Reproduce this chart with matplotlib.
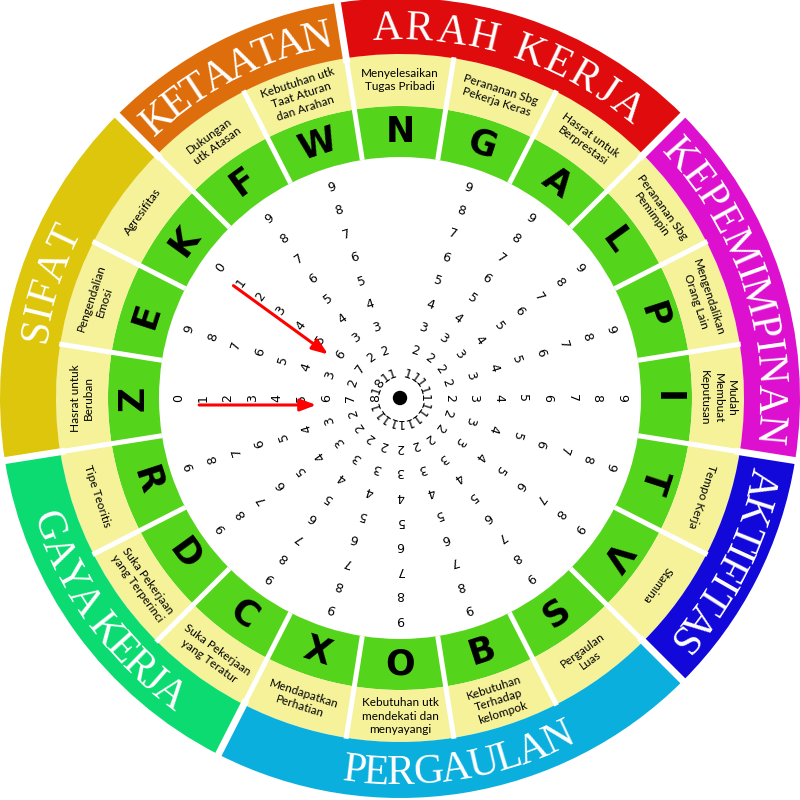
import matplotlib
matplotlib.use("Agg")
import matplotlib.pyplot as plt
import numpy as np
from matplotlib.patches import Wedge, Circle
from matplotlib.font_manager import FontProperties
from matplotlib.textpath import TextToPath

# ---- data -------------------------------------------------------------
letters = ["N", "G", "A", "L", "P", "I", "T", "V", "S", "B",
           "O", "X", "C", "D", "R", "Z", "E", "K", "F", "W"]
descriptions = [
    "Menyelesaikan\nTugas Pribadi",
    "Perananan Sbg\nPekerja Keras",
    "Hasrat untuk\nBerprestasi",
    "Perananan Sbg\nPemimpin",
    "Mengendalikan\nOrang Lain",
    "Mudah\nMembuat\nKeputusan",
    "Tempo Kerja",
    "Stamina",
    "Pergaulan\nLuas",
    "Kebutuhan\nTerhadap\nkelompok",
    "Kebutuhan utk\nmendekati dan\nmenyayangi",
    "Mendapatkan\nPerhatian",
    "Suka Pekerjaan\nyang Teratur",
    "Suka Pekerjaan\nyang Terperinci",
    "Tipe Teoritis",
    "Hasrat untuk\nBeruban",
    "Pengendalian\nEmosi",
    "Agresifitas",
    "Dukungan\nutk Atasan",
    "Kebutuhan utk\nTaat Aturan\ndan Arahan",
]
groups = ["ARAH KERJA", "KEPEMIMPINAN", "AKTIFITAS", "PERGAULAN",
          "GAYA KERJA", "SIFAT", "KETAATAN"]
group_sizes = [3, 3, 2, 4, 3, 3, 2]
group_colors = ["#E00B0C", "#DD10D0", "#1208D9", "#0AAFDE",
                "#0CDB72", "#DEC60C", "#DE6E0C"]
group_spans = [40, 46, 27.4, 32, 32, 15, 28]      # degrees of arc used by label
scale_values = list(range(10))
reversed_scale = ["Z", "K"]
no_scale = ["N"]
arrow_letters = ["K", "Z"]
arrow_from = [1, 1]
arrow_to = [6, 6]

# ---- geometry ---------------------------------------------------------
R_IN, R_MID, R_TXT, R_OUT = 241, 292, 344, 400
STEP = 24.6
SEC = 360 / len(letters)
GREEN = "#55D41C"
PALE = "#F5F29A"

def ang(i):
    return 90 - SEC * i

def is_bottom(a):
    a = a % 360
    return 180 < a < 315

def scale_r(letter, d):
    return STEP * (9 - d) if letter in reversed_scale else STEP * d

fig = plt.figure(figsize=(8, 8), dpi=100)
ax = fig.add_axes([0, 0, 1, 1])
ax.set_xlim(-400, 400)
ax.set_ylim(-402, 398)
ax.set_aspect("equal")
ax.axis("off")

# letter and description rings
for i, (let, desc) in enumerate(zip(letters, descriptions)):
    a = ang(i)
    ax.add_patch(Wedge((0, 0), R_MID, a - SEC / 2, a + SEC / 2,
                       width=R_MID - R_IN, color=GREEN, lw=0))
    ax.add_patch(Wedge((0, 0), R_TXT, a - SEC / 2, a + SEC / 2,
                       width=R_TXT - R_MID, color=PALE, lw=0))
    rot = a + 90 if is_bottom(a) else a - 90
    r = (R_IN + R_MID) / 2
    ax.text(r * np.cos(np.radians(a)), r * np.sin(np.radians(a)), let,
            rotation=rot, rotation_mode="anchor", ha="center", va="center",
            fontsize=25, fontweight="bold", family="DejaVu Sans", color="black")
    r = (R_MID + R_TXT) / 2
    ax.text(r * np.cos(np.radians(a)), r * np.sin(np.radians(a)), desc,
            rotation=rot, rotation_mode="anchor", ha="center", va="center",
            multialignment="center", linespacing=1.25,
            fontsize=8.5, family="Lato", color="black")

# outer category ring
ttp = TextToPath()
start = 0
for name, size, col, span in zip(groups, group_sizes, group_colors, group_spans):
    a0 = ang(start) + SEC / 2
    a1 = ang(start + size - 1) - SEC / 2
    ax.add_patch(Wedge((0, 0), R_OUT, a1, a0, width=R_OUT - R_TXT, color=col, lw=0))
    center = (a0 + a1) / 2
    bottom = is_bottom(center)
    fp = FontProperties(family="Liberation Serif", size=30)
    w0 = ttp.get_text_width_height_descent("HH", fp, ismath=False)[0]
    adv = [(ttp.get_text_width_height_descent("H" + ch + "H", fp, ismath=False)[0] - w0) * 100 / 72
           for ch in name]
    pos = np.cumsum(adv) - np.array(adv) / 2
    pos = pos - pos[0]
    r_lab = 376 if bottom else 369
    arc = np.radians(span) * r_lab
    track = (arc - pos[-1]) / (len(name) - 1)
    pos = pos + track * np.arange(len(name))
    pos = pos - pos[-1] / 2
    for ch, p in zip(name, pos):
        if ch == " ":
            continue
        da = np.degrees(p / r_lab)
        ca = center + da if bottom else center - da
        rot = ca + 90 if bottom else ca - 90
        ax.text(r_lab * np.cos(np.radians(ca)), r_lab * np.sin(np.radians(ca)), ch,
                rotation=rot, rotation_mode="anchor", ha="center", va="center",
                fontproperties=fp, color="white")
    start += size

# separators
for i in range(len(letters)):
    b = np.radians(ang(i) + SEC / 2)
    ax.plot([R_IN * np.cos(b), (R_TXT + 1) * np.cos(b)],
            [R_IN * np.sin(b), (R_TXT + 1) * np.sin(b)], color="white", lw=3.6,
            solid_capstyle="butt")
start = 0
for size in group_sizes:
    b = np.radians(ang(start) + SEC / 2)
    ax.plot([(R_TXT - 5) * np.cos(b), (R_OUT + 3) * np.cos(b)],
            [(R_TXT - 5) * np.sin(b), (R_OUT + 3) * np.sin(b)], color="white", lw=5,
            solid_capstyle="butt")
    start += size

# scales
for i, let in enumerate(letters):
    if let in no_scale:
        continue
    a = ang(i)
    for d in scale_values:
        r = scale_r(let, d)
        if r < 10:
            continue
        ax.text(r * np.cos(np.radians(a)), r * np.sin(np.radians(a)), str(d),
                rotation=a - 90, rotation_mode="anchor", ha="center", va="center",
                fontsize=9, family="DejaVu Sans", color="black")

# arrows
for let, f, t in zip(arrow_letters, arrow_from, arrow_to):
    a = np.radians(ang(letters.index(let)))
    u = np.array([np.cos(a), np.sin(a)])
    n = np.array([-np.sin(a), np.cos(a)])
    rf, rt = scale_r(let, f), scale_r(let, t)
    sgn = np.sign(rf - rt)
    p0 = (rf + 4 * sgn) * u + 7 * n
    p1 = (rt + 10 * sgn) * u + 7 * n
    ax.annotate("", xy=p1, xytext=p0,
                arrowprops=dict(arrowstyle="-|>,head_length=0.95,head_width=0.36",
                                color="#FF0000", lw=2.2, shrinkA=0, shrinkB=0,
                                mutation_scale=10))

ax.add_patch(Circle((0, 0), 6.5, color="black"))

fig.savefig("out.png", dpi=100)
